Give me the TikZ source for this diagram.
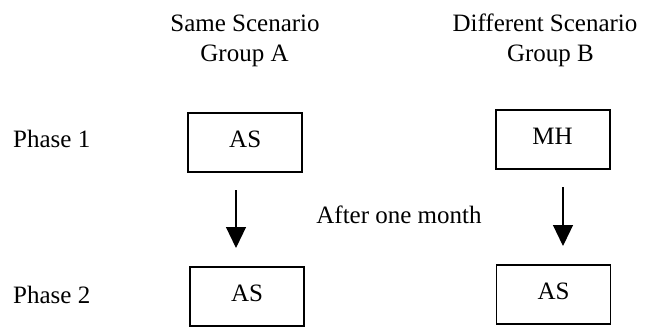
\documentclass[tikz,border=0pt]{standalone}
\usepackage{fontspec}
\setmainfont{Liberation Serif}
\usetikzlibrary{arrows.meta}
\begin{document}
\begin{tikzpicture}[x=1pt,y=-1pt,
  txt/.style={font=\fontsize{25}{30}\selectfont, inner sep=0pt, anchor=base},
  box/.style={draw, line width=1.8pt, minimum width=114pt, minimum height=59pt, inner sep=0pt, text depth=6pt, font=\fontsize{25}{30}\selectfont},
  arr/.style={line width=1.2pt, -{Triangle[width=20pt,length=21pt]}}]
\useasboundingbox (0,0) rectangle (652,327);
% headers
\node[txt] (sameh) at (245,31.5) {Same Scenario};
\node[txt] (grpa) at (244.5,61.5) {Group A};
\node[txt] (diffh) at (545,31) {Different Scenario};
\node[txt] (grpb) at (550.5,61) {Group B};
% phase labels
\node[txt, anchor=base west] (ph1) at (13,147) {Phase 1};
\node[txt, anchor=base west] (ph2) at (13,303) {Phase 2};
% boxes
\node[box] (a1) at (245.2,142.2) {AS};
\node[box] (b1) at (552.6,139.7) {MH};
\node[box] (a2) at (247,296.5) {AS};
\node[box] (b2) at (553.5,294.5) {AS};
% middle label
\node[txt] (after) at (399,223) {After one month};
% arrows
\coordinate (as) at (236,190);
\coordinate (ae) at (236,248);
\coordinate (bs) at (563,187);
\coordinate (be) at (563,246);
\draw[arr] (as) -- (ae);
\draw[arr] (bs) -- (be);
\end{tikzpicture}
\end{document}
